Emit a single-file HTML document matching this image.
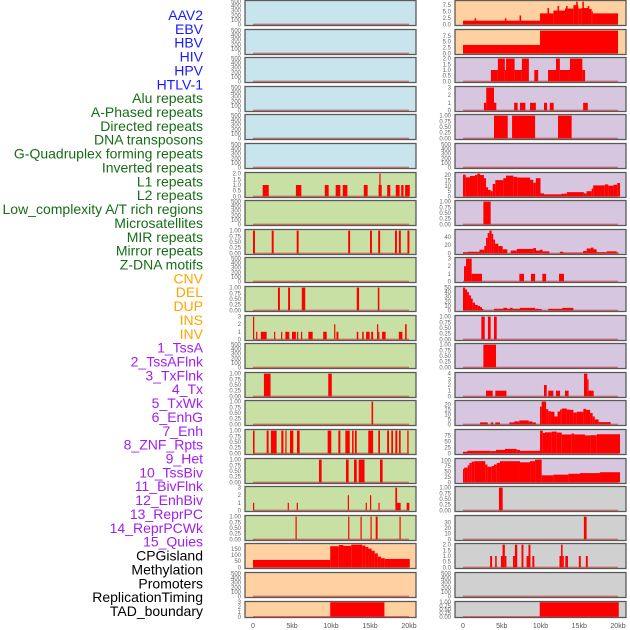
<!DOCTYPE html>
<html><head><meta charset="utf-8"><style>
body{margin:0;background:#fff;}
svg{display:block;font-family:"Liberation Sans",sans-serif;}
</style></head><body>
<svg id="chart" width="630" height="630" viewBox="0 0 630 630" xmlns="http://www.w3.org/2000/svg"></svg>
<script>
const labels = ["AAV2","EBV","HBV","HIV","HPV","HTLV-1","Alu repeats","A-Phased repeats","Directed repeats","DNA transposons","G-Quadruplex forming repeats","Inverted repeats","L1 repeats","L2 repeats","Low_complexity A/T rich regions","Microsatellites","MIR repeats","Mirror repeats","Z-DNA motifs","CNV","DEL","DUP","INS","INV","1_TssA","2_TssAFlnk","3_TxFlnk","4_Tx","5_TxWk","6_EnhG","7_Enh","8_ZNF_Rpts","9_Het","10_TssBiv","11_BivFlnk","12_EnhBiv","13_ReprPC","14_ReprPCWk","15_Quies","CPGisland","Methylation","Promoters","ReplicationTiming","TAD_boundary"];
const labelColors = ["#1a1aff","#1a1aff","#1a1aff","#1a1aff","#1a1aff","#1a1aff","#176d17","#176d17","#176d17","#176d17","#176d17","#176d17","#176d17","#176d17","#176d17","#176d17","#176d17","#176d17","#176d17","#ffa500","#ffa500","#ffa500","#ffa500","#ffa500","#a020f0","#a020f0","#a020f0","#a020f0","#a020f0","#a020f0","#a020f0","#a020f0","#a020f0","#a020f0","#a020f0","#a020f0","#a020f0","#a020f0","#a020f0","#000","#000","#000","#000","#000"];
const xTickKb = [0,5,10,15,20];
const xTickLabels = ["0","5kb","10kb","15kb","20kb"];
const E = [];
const T500 = [0,100,200,300,400,500];
const T1 = [0,0.25,0.5,0.75,1];
const T1L = ["0.00","0.25","0.50","0.75","1.00"];
// Left column panels: [background, ticks, tickLabels, dataMax, segments [startKb,endKb,value]]
const leftSegs = [
 E,E,E,E,E,E,
 [[1.24,2.02,1],[5.5,6.2,1],[9.2,9.7,1],[10.6,11.2,1],[11.5,12.1,1],[14.2,14.7,1],[16.1,16.5,1],[16.2,16.35,2],[17.2,17.6,1],[18.3,18.8,1],[19.0,19.3,1],[19.5,20.1,1]],
 E,
 [[0.0,0.25,1],[2.4,2.65,1],[5.6,5.85,1],[12.2,12.45,1],[15.0,15.25,1],[16.05,16.3,1],[18.2,18.45,1],[18.7,18.95,1],[19.8,20.05,1]],
 E,
 [[3.2,3.45,1],[4.5,4.75,1],[6.25,6.7,1],[13.3,13.6,1],[16.0,16.2,1]],
 [[0.0,0.15,3],[0.4,0.55,1],[1.0,1.75,1],[2.7,2.85,1],[3.6,3.75,1],[4.15,4.65,1],[5.0,5.5,1],[5.65,5.8,1],[6.15,6.3,1],[7.1,7.65,1],[9.0,9.45,1],[10.4,10.55,2],[10.7,10.95,1],[13.3,13.5,1],[14.0,14.2,1],[14.5,14.95,1],[15.15,15.4,1],[15.9,16.05,2],[16.05,16.2,1],[16.55,17.0,1],[18.7,19.15,1],[19.5,19.7,2]],
 E,
 [[1.4,2.25,1],[9.65,10.1,1]],
 [[15.2,15.4,1]],
 [[0.0,0.2,1],[1.75,2.0,1],[2.3,3.03,1],[3.63,3.9,1],[4.15,4.3,1],[4.74,5.17,1],[5.64,5.98,1],[9.57,10.04,1],[10.94,11.2,1],[11.84,12.4,1],[12.7,12.9,1],[13.07,13.3,1],[14.78,15.4,1],[16.06,16.28,1],[17.2,17.44,1],[17.73,17.95,1],[18.25,18.5,1],[18.72,18.93,1],[19.78,19.95,1]],
 [[8.46,8.8,1],[11.92,12.26,1],[12.95,13.3,1],[13.55,14.3,1],[16.28,16.62,1]],
 [[0.0,0.15,1],[4.45,4.6,1],[5.6,5.75,1],[12.15,12.3,2],[14.45,14.6,1],[15.0,15.15,2],[16.08,16.23,1],[18.25,18.47,3],[18.47,18.93,1],[19.7,20.04,1]],
 [[5.45,5.6,1],[12.2,12.35,1],[13.78,13.93,1],[15.06,15.21,1],[15.73,15.98,1],[18.78,18.93,1]],
 [[0,9.9,60],[9.9,11.0,171],[11.0,11.6,181],[11.6,12.6,174],[12.6,14.0,184],[14.0,14.4,177],[14.4,14.8,165],[14.8,15.2,152],[15.2,15.6,134],[15.6,16.0,113],[16.0,16.4,87],[16.4,16.9,74],[16.9,20.1,68]],
 E,
 [[9.9,16.85,3]]
];
const leftBg = ["#c8e4ec","#c8e4ec","#c8e4ec","#c8e4ec","#c8e4ec","#c8e4ec","#c8e0a4","#c8e0a4","#c8e0a4","#c8e0a4","#c8e0a4","#c8e0a4","#c8e0a4","#c8e0a4","#c8e0a4","#c8e0a4","#c8e0a4","#c8e0a4","#c8e0a4","#ffd0a0","#ffd0a0","#ffd0a0"];
const leftTicks = [T500,T500,T500,T500,T500,T500,[0,0.5,1,1.5,2],T500,T1,T500,T1,[0,1,2,3],T500,T1,T1,T1,T1,[0,1,2,3],T1,[0,50,100,150],T500,[0,1,2,3]];
const leftTickLabels = [null,null,null,null,null,null,["0.0","0.5","1.0","1.5","2.0"],null,T1L,null,T1L,null,null,T1L,T1L,T1L,T1L,null,T1L,null,null,null];
const leftMax = [500,500,500,500,500,500,2,500,1,500,1,3,500,1,1,1,1,3,1,184,500,3];

const rightSegs = [
 [[0,9.94,1.45],[1.5,1.7,2.4],[5.4,5.6,2.4],[7.3,7.5,3.5],[9.94,11.66,4.3],[10.9,11.1,6.4],[11.66,13.16,5.4],[12.2,12.4,7.2],[13.16,14.24,6.2],[13.3,13.5,7.2],[14.24,14.88,7.5],[14.6,14.8,8.9],[14.88,15.31,6.2],[15.4,15.6,8.9],[15.31,16.17,6.4],[16.1,16.3,7.2],[16.17,16.6,6.0],[16.6,16.73,5.1],[16.73,20.0,4.3]],
 [[0,9.94,3.6],[9.94,20.0,9.7]],
 [[3.6,4.5,1],[4.5,5.4,2],[5.4,5.55,1],[5.55,6.66,2],[6.66,7.6,1],[7.6,8.5,2],[9.2,9.7,1],[10.97,12.0,1],[12.0,12.5,2],[12.5,13.8,1],[13.8,15.4,2],[15.4,15.75,1]],
 [[2.7,3.0,1],[3.0,4.0,3],[4.0,4.3,1],[6.6,7.05,1],[7.35,8.05,1],[8.65,9.4,1],[10.45,10.85,1],[11.2,11.7,1],[15.5,16.1,1]],
 [[4.0,5.77,1],[6.33,9.3,1],[12.26,14.02,1]],
 E,
 [[0,0.35,20.5],[0.35,0.9,18],[0.9,1.55,19.3],[1.55,1.85,20.2],[1.85,2.2,21.5],[2.2,2.7,20.2],[2.7,2.97,17.2],[2.97,3.23,8.6],[3.23,3.57,6.1],[3.57,3.83,4.9],[3.83,4.17,11.7],[4.17,5.2,15.4],[5.2,5.55,17.2],[5.55,6.5,19.6],[6.5,7.0,18.4],[7.0,8.65,17.8],[8.65,9.07,15.7],[9.07,9.4,12.9],[9.4,10.0,17.2],[10.0,10.45,2.8],[10.45,12.7,1.9],[12.7,13.4,2.5],[13.4,15.6,4],[15.6,15.95,2.8],[15.95,16.6,4.9],[16.6,16.8,7.4],[16.8,18.3,10.4],[18.3,18.75,11.3],[18.75,19.4,10.1],[19.4,19.9,11],[19.9,20.26,12.6]],
 [[2.63,3.57,1]],
 [[0,0.6,3],[0.6,2.13,4],[2.13,2.75,9],[2.75,2.97,18],[2.97,3.18,38],[3.18,3.4,50],[3.4,3.7,56],[3.7,3.9,48],[3.9,4.13,34],[4.13,4.56,24],[4.56,5.12,18],[5.12,5.72,10],[6.15,6.93,7],[6.93,9.07,11],[9.07,9.42,13],[9.42,9.94,7],[9.94,10.28,9],[10.28,11.14,5],[12.5,12.95,4],[12.95,15.5,2],[15.5,15.96,6],[15.96,16.5,12],[16.5,16.83,14],[16.83,17.25,10],[17.25,18.55,3],[18.55,19.83,5],[19.83,20.1,2]],
 [[0.13,0.39,2],[0.39,1.12,3],[1.12,2.45,1],[7.27,7.87,1],[8.77,9.3,1],[10.24,10.72,1],[12.39,13.03,1]],
 [[0,0.26,50],[0.26,0.52,46],[0.52,0.77,40],[0.77,1.03,33],[1.03,1.25,26],[1.25,1.55,17],[1.55,1.9,12],[1.9,2.2,10],[2.2,2.45,7],[2.45,2.63,3],[4.0,5.2,3.5],[5.2,5.72,5.5],[5.72,6.07,3.5],[6.07,6.41,5.5],[6.41,7.35,3.5],[7.35,9.3,5.5],[9.3,9.81,3.5],[9.81,10.15,3],[11.0,12.8,3.5],[12.8,14.24,5.5]],
 [[2.37,2.8,1],[3.22,3.57,1],[4.0,4.35,1]],
 [[2.63,4.26,1]],
 [[2.97,3.83,1],[4.17,5.6,1],[10.45,10.8,2],[11.0,11.66,1],[12.0,12.52,1],[13.16,13.63,1],[15.61,16.04,4],[16.04,16.2,3],[16.2,16.86,1]],
 [[2.2,3.2,2],[3.6,3.9,2],[4.17,4.77,2],[5.98,6.6,2],[6.6,7.27,3],[7.27,8.47,4],[8.47,8.95,3],[8.95,9.4,2],[9.94,10.15,18],[10.15,10.72,23],[10.72,11.0,15.4],[11.0,11.3,13.4],[11.3,11.8,12.8],[11.8,12.2,8],[12.2,12.52,13],[12.52,12.74,15],[12.74,13.4,16],[13.4,13.8,15],[13.8,14.24,14.7],[14.24,14.67,12],[14.67,15.53,12.8],[15.53,15.87,15.7],[15.87,16.4,14.7],[16.4,16.73,11.5],[16.73,17.0,8],[17.0,17.5,5],[17.5,19.05,2.3]],
 [[0,0.56,6.7],[0.56,3.5,10.7],[3.5,4.26,9.5],[4.26,5.42,14.7],[5.42,6.93,18.7],[6.93,7.35,14.7],[7.35,9.94,10.7],[9.94,10.3,95],[10.3,10.58,85],[10.58,11.44,88],[11.44,12.1,91],[12.1,12.74,87],[12.74,14.02,79],[14.02,14.32,83],[14.32,15.74,79],[15.74,16.4,75],[16.4,17.25,76],[17.25,20.26,80]],
 [[0,0.15,61],[0.15,0.6,66.7],[0.6,0.82,77],[0.82,1.12,88],[1.12,1.45,94],[1.45,2.87,96],[2.87,3.15,81],[3.15,3.7,71],[3.7,4.0,74],[4.0,4.35,81],[4.35,4.77,88],[4.77,7.35,96],[7.35,8.65,91],[8.65,9.3,96],[9.3,10.15,103],[10.15,11.66,32],[11.66,13.6,35],[13.6,15.1,39],[15.1,17.68,42],[17.68,20.26,46]],
 [[4.64,5.12,1]],
 [[15.6,15.95,40]],
 [[3.5,3.75,1],[4.15,4.35,1],[4.9,5.1,1],[5.1,5.4,2],[5.4,5.6,1],[6.45,6.7,1],[6.7,7.0,2],[7.55,7.8,2],[8.2,8.45,1],[8.45,8.7,2],[8.95,9.2,1],[12.45,12.65,1],[12.65,12.85,2],[12.85,13.0,1],[13.2,13.55,1],[14.95,15.2,1],[15.85,16.1,1]],
 E,
 [[9.9,20.1,1]]
];
const rightBg = ["#ffd0a0","#ffd0a0","#d6c6e0","#d6c6e0","#d6c6e0","#d6c6e0","#d6c6e0","#d6c6e0","#d6c6e0","#d6c6e0","#d6c6e0","#d6c6e0","#d6c6e0","#d6c6e0","#d6c6e0","#d6c6e0","#d6c6e0","#d0d0d0","#d0d0d0","#d0d0d0","#d0d0d0","#d0d0d0"];
const rightTicks = [[0,2.5,5,7.5],[0,2.5,5,7.5],[0,0.5,1,1.5,2],[0,1,2,3],T1,T500,[0,5,10,15,20],T1,[0,20,40],[0,1,2,3],[0,10,20,30,40,50],T1,T1,[0,1,2,3,4],[0,5,10,15,20],[0,25,50,75],[0,25,50,75,100],T1,[0,10,20,30],[0,0.5,1,1.5,2],T500,T1];
const rightTickLabels = [["0.0","2.5","5.0","7.5"],["0.0","2.5","5.0","7.5"],["0.0","0.5","1.0","1.5","2.0"],null,T1L,null,null,T1L,null,null,null,T1L,T1L,null,null,null,null,T1L,null,["0.0","0.5","1.0","1.5","2.0"],null,T1L];
const rightMax = [8.9,9.7,2,3,1,500,21.5,1,56,3,50,1,1,4,23,95,103,1,40,2,500,1];

const svg = document.getElementById('chart');
const NS = 'http://www.w3.org/2000/svg';
function mk(tag, attrs, parent){ const e=document.createElementNS(NS,tag); for(const k in attrs) e.setAttribute(k,attrs[k]); (parent||svg).appendChild(e); return e; }

labels.forEach((t,i)=>{
  const el = mk('text',{x:203,y:(15+i*13.86+5).toFixed(1),'text-anchor':'end','font-size':'14',fill:labelColors[i]});
  el.textContent=t;
  
  
});

const cols = [
  {segs:leftSegs,bg:leftBg,ticks:leftTicks,tl:leftTickLabels,max:leftMax,bx0:245,bx1:416,x0:253,x1:409,tx:241,name:'left'},
  {segs:rightSegs,bg:rightBg,ticks:rightTicks,tl:rightTickLabels,max:rightMax,bx0:455,bx1:626,x0:463,x1:618,tx:451,name:'right'}
];
cols.forEach(c=>{
  const xs = kb => c.x0 + (c.x1-c.x0)*kb/20;
  for(let i=0;i<22;i++){
    const top = Math.round(i*28.6)+0.5;
    const h = i===21 ? 16 : 25;
    const g = mk('g',{});
    
    
    mk('rect',{x:c.bx0,y:top,width:c.bx1-c.bx0,height:h,fill:c.bg[i],stroke:'#5a5a5a','stroke-width':1.3},g);
    const M = c.max[i];
    const lo = -0.05*M, hi = 1.05*M;
    const ys = v => top + h - (v-lo)/(hi-lo)*h;
    c.ticks[i].forEach((tv,k)=>{
      const lab = c.tl[i] ? c.tl[i][k] : String(tv);
      const t = mk('text',{x:c.tx,y:(ys(tv)+2).toFixed(1),'text-anchor':'end','font-size':'6',fill:'#666'},g);
      t.textContent = lab;
      
      
    });
    c.segs[i].forEach(s=>{
      const xa = xs(s[0]), xb = xs(s[1]);
      const y = ys(s[2]);
      const r = mk('rect',{x:xa.toFixed(2),y:y.toFixed(2),width:Math.max(1.2,xb-xa).toFixed(2),height:(ys(0)-y).toFixed(2),fill:'#ff0000'},g);
      
      
    });
    const bl = mk('line',{x1:xs(0),x2:xs(20),y1:ys(0).toFixed(1),y2:ys(0).toFixed(1),stroke:'rgba(190,40,40,0.55)','stroke-width':1.5},g);
    
    
  }
  xTickKb.forEach((kb,k)=>{
    const t = mk('text',{x:xs(kb),y:628,'text-anchor':'middle','font-size':'7',fill:'#555'});
    t.textContent = xTickLabels[k];
    
    
  });
});
</script>
</body></html>
